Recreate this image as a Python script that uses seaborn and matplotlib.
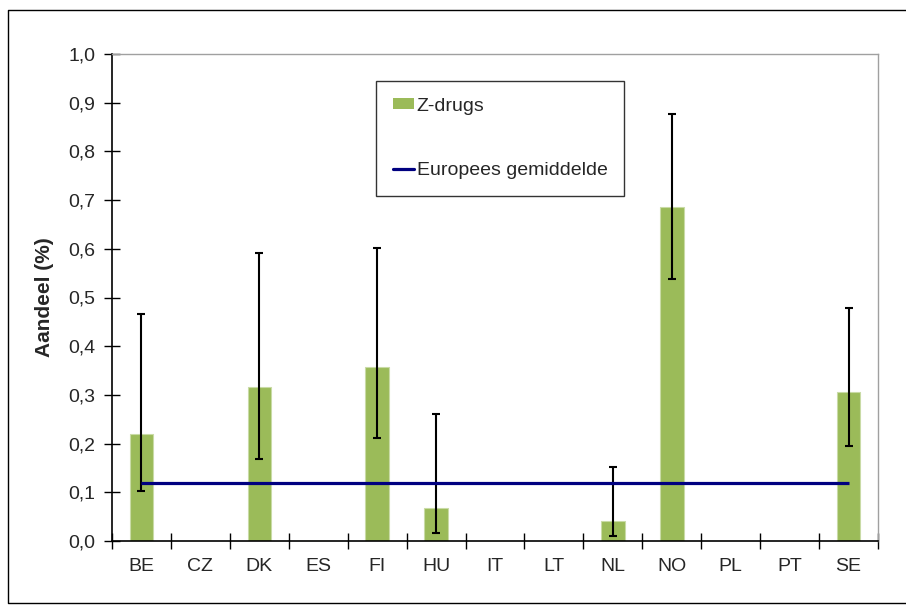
import numpy as np
import pandas as pd
import seaborn as sns
import matplotlib.pyplot as plt
from matplotlib.patches import Rectangle
from matplotlib.lines import Line2D
from matplotlib.ticker import FuncFormatter, FixedLocator

countries = ['BE', 'CZ', 'DK', 'ES', 'FI', 'HU', 'IT', 'LT', 'NL', 'NO', 'PL', 'PT', 'SE']
z_drugs = [0.22, 0.0, 0.316, 0.0, 0.357, 0.068, 0.0, 0.0, 0.042, 0.686, 0.0, 0.0, 0.306]
ci_low = [0.103, 0.0, 0.168, 0.0, 0.211, 0.017, 0.0, 0.0, 0.010, 0.538, 0.0, 0.0, 0.196]
ci_high = [0.466, 0.0, 0.591, 0.0, 0.602, 0.261, 0.0, 0.0, 0.152, 0.877, 0.0, 0.0, 0.479]
eu_mean = 0.12

BAR_COLOR = '#9bbb59'
LINE_COLOR = '#000080'

sns.set_theme(style='white')
plt.rcParams['font.family'] = ['Liberation Sans', 'DejaVu Sans']

df = pd.DataFrame({'land': countries, 'aandeel': z_drugs,
                   'low': ci_low, 'high': ci_high})

fig = plt.figure(figsize=(9.06, 6.05), dpi=100)
ax = fig.add_axes([112 / 906, 1 - 541 / 605, (878 - 112) / 906, (541 - 54) / 605])

# outer frame: left, top and bottom only, it runs off the right edge
fx0, fy0, fy1 = 8 / 906, 1 - 603 / 605, 1 - 10 / 605
fig.lines.append(Line2D([1.0, fx0, fx0, 1.0], [fy1, fy1, fy0, fy0],
                        transform=fig.transFigure, color='black', linewidth=1.0))

sns.barplot(data=df, x='land', y='aandeel', color=BAR_COLOR, width=0.4,
            edgecolor='#c9dba6', linewidth=0.8, saturation=1, ax=ax)

pos = np.arange(len(countries))
has = df['aandeel'] > 0
ax.errorbar(pos[has], df.loc[has, 'aandeel'],
            yerr=[df.loc[has, 'aandeel'] - df.loc[has, 'low'],
                  df.loc[has, 'high'] - df.loc[has, 'aandeel']],
            fmt='none', ecolor='black', elinewidth=1.5, capsize=3, capthick=1.5,
            zorder=3)

ax.hlines(eu_mean, pos[0], pos[-1], color=LINE_COLOR, linewidth=2.3, zorder=4)

ax.set_xlim(-0.5, len(countries) - 0.5)
ax.set_ylim(0, 1.0)
ax.set_yticks(np.arange(0, 1.01, 0.1))
ax.yaxis.set_major_formatter(FuncFormatter(lambda v, p: f'{v:.1f}'.replace('.', ',')))
ax.xaxis.set_minor_locator(FixedLocator(np.arange(-0.5, len(countries), 1.0)))
ax.tick_params(axis='x', which='major', length=0, labelsize=14, pad=12)
ax.tick_params(axis='x', which='minor', direction='inout', length=12, width=1, color='black', bottom=True)
ax.tick_params(axis='y', direction='inout', length=12, width=1, color='black', left=True,
               labelsize=14, pad=6)

ax.set_xlabel('')
ax.set_ylabel('Aandeel (%)', fontsize=15, fontweight='bold', labelpad=10)

for s in ['left', 'bottom']:
    ax.spines[s].set_color('black')
    ax.spines[s].set_linewidth(1.2)
for s in ['top', 'right']:
    ax.spines[s].set_color('#a0a0a0')
    ax.spines[s].set_linewidth(1.0)

handles = [Rectangle((0, 0), 1, 1, facecolor=BAR_COLOR, edgecolor='none'),
           Line2D([0], [0], color=LINE_COLOR, linewidth=2.3)]
leg = ax.legend(handles, ['Z-drugs', 'Europees gemiddelde'], loc='upper left',
                bbox_to_anchor=((376 - 112) / 766, 1 - (81 - 54) / 487),
                fontsize=14, frameon=True, fancybox=False, handlelength=1.1,
                handletextpad=0.15, labelspacing=2.45, borderpad=0.85,
                handleheight=0.5, borderaxespad=0)
leg.get_frame().set_edgecolor('black')
leg.get_frame().set_linewidth(1.0)

fig.savefig('out.png', dpi=100)
